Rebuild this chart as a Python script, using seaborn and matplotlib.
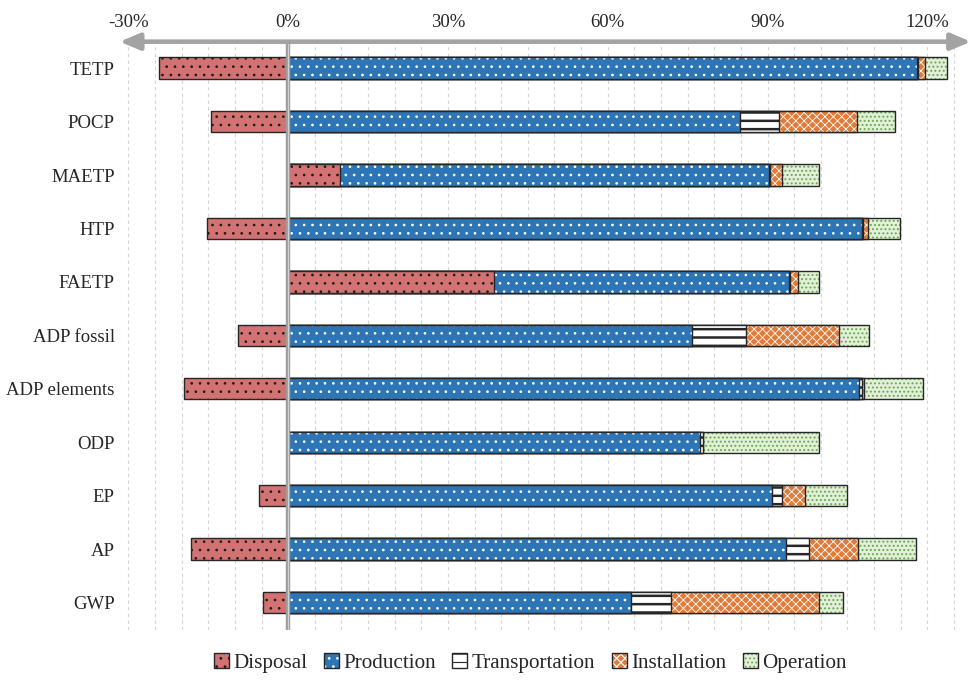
import matplotlib
matplotlib.use("Agg")
import matplotlib.pyplot as plt
from matplotlib.patches import Patch
from matplotlib.legend_handler import HandlerTuple
import numpy as np
import pandas as pd
import seaborn as sns

# Impact categories (top to bottom) and the share of each life-cycle stage, in %
categories = ["TETP", "POCP", "MAETP", "HTP", "FAETP", "ADP fossil",
              "ADP elements", "ODP", "EP", "AP", "GWP"]
disposal = [-24.3, -14.4, 9.7, -15.3, 38.7, -9.4, -19.6, 0.0, -5.5, -18.3, -4.7]
production = [118.1, 84.9, 80.5, 107.8, 55.4, 75.9, 107.2, 77.4, 90.8, 93.5, 64.3]
transportation = [0.2, 7.2, 0.2, 0.2, 0.2, 10.0, 0.5, 0.5, 1.9, 4.2, 7.6]
installation = [1.3, 14.7, 2.4, 0.8, 1.5, 17.6, 0.5, 0.0, 4.3, 9.3, 27.8]
operation = [4.1, 7.2, 6.8, 6.1, 3.8, 5.6, 11.0, 21.8, 8.0, 10.9, 4.5]

stage_names = ["Disposal", "Production", "Transportation", "Installation", "Operation"]
tick_values = [-30, 0, 30, 60, 90, 120]
tick_labels = ["-30%", "0%", "30%", "60%", "90%", "120%"]

# stage styles: fill colour, hatch colour, hatch pattern, hatch line width
styles = {
    "Disposal":       ("#d27272", "#1a1a1a", "..", 0.7),
    "Production":     ("#2e75b6", "#ffffff", "..", 0.7),
    "Transportation": ("#ffffff", "#262626", "--", 1.8),
    "Installation":   ("#e07b39", "#ffffff", "xxxx", 0.6),
    "Operation":      ("#e2f0d9", "#6aa84f", "....", 0.9),
}
outline = "#262626"

sns.set_style("white")
plt.rcParams["font.family"] = ["Liberation Serif", "DejaVu Serif"]
plt.rcParams["hatch.linewidth"] = 0.8

# cumulative stack ends; positive disposal sits at the base of the stack
disp = np.array(disposal)
base = np.clip(disp, 0, None)
prod_end = base + np.array(production)
trans_end = prod_end + np.array(transportation)
inst_end = trans_end + np.array(installation)
op_end = inst_end + np.array(operation)

df = pd.DataFrame({
    "Category": categories,
    "Operation": op_end,
    "Installation": inst_end,
    "Transportation": trans_end,
    "Production": prod_end,
    "Disposal": disp,
})

fig = plt.figure(figsize=(9.71, 6.82), dpi=100)
ax = fig.add_axes([0.1267, 0.0762, 0.8733, 0.8627])

# vertical dashed grid every 5 %
for g in range(-30, 130, 5):
    ax.axvline(g, color="#d4d4d4", lw=0.8, ls=(0, (3, 3)), zorder=0)

# draw stacks from the outermost cumulative end inward
for stage in ["Operation", "Installation", "Transportation", "Production", "Disposal"]:
    fc, hc, hatch, hlw = styles[stage]
    n0 = len(ax.patches)
    sns.barplot(data=df, x=stage, y="Category", order=categories, orient="h",
                color=fc, saturation=1, width=0.4, errorbar=None,
                hatch=hatch, edgecolor=hc, linewidth=0, ax=ax, zorder=2)
    for p in ax.patches[n0:]:
        p.set_facecolor(fc)
        p.set_edgecolor(hc)
        p.set_linewidth(0)
        if hasattr(p, "set_hatch_linewidth"):
            p.set_hatch_linewidth(hlw)
    n1 = len(ax.patches)
    sns.barplot(data=df, x=stage, y="Category", order=categories, orient="h",
                color=outline, fill=False, width=0.4, errorbar=None,
                linewidth=1.0, ax=ax, zorder=2)
    for p in ax.patches[n1:]:
        p.set_facecolor("none")
        p.set_edgecolor(outline)
        p.set_linewidth(1.0)

# zero line (grey double rule)
ax.axvline(0, color="#9c9c9c", lw=3.2, zorder=3)
ax.axvline(0, color="#d0d0d0", lw=0.9, zorder=3)

ax.set_xlim(-31, 128.2)
ax.set_ylim(10.515, -0.496)
ax.set_xlabel("")
ax.set_ylabel("")
for s in ax.spines.values():
    s.set_visible(False)

ax.xaxis.tick_top()
ax.set_xticks(tick_values)
ax.set_xticklabels(tick_labels, fontsize=13.5)
ax.tick_params(axis="x", length=0, pad=8)
ax.tick_params(axis="y", length=0, pad=6, labelsize=13.5)

# double-headed arrow along the top axis
ax.annotate("", xy=(1.0, 1.0), xytext=(-0.004, 1.0), xycoords="axes fraction",
            textcoords="axes fraction",
            arrowprops=dict(arrowstyle="<|-|>,head_length=1.0,head_width=0.42",
                            color="#a3a3a3", lw=3.3, shrinkA=0, shrinkB=0,
                            mutation_scale=12),
            annotation_clip=False, zorder=4)

# legend: hatched fill overlaid with its outline
handles = []
for stage in stage_names:
    fc, hc, hatch, hlw = styles[stage]
    fill_p = Patch(facecolor=fc, edgecolor=hc, hatch=hatch, linewidth=0)
    edge_p = Patch(facecolor="none", edgecolor=outline, linewidth=1.0)
    handles.append((fill_p, edge_p))
fig.legend(handles, stage_names, handler_map={tuple: HandlerTuple(ndivide=1, pad=0)},
           loc="center", bbox_to_anchor=(0.546, 1 - 663 / 682), ncol=5,
           frameon=False, fontsize=15.2, handlelength=0.7, handleheight=0.7,
           handletextpad=0.2, columnspacing=0.8)

fig.savefig("out.png", dpi=100)
